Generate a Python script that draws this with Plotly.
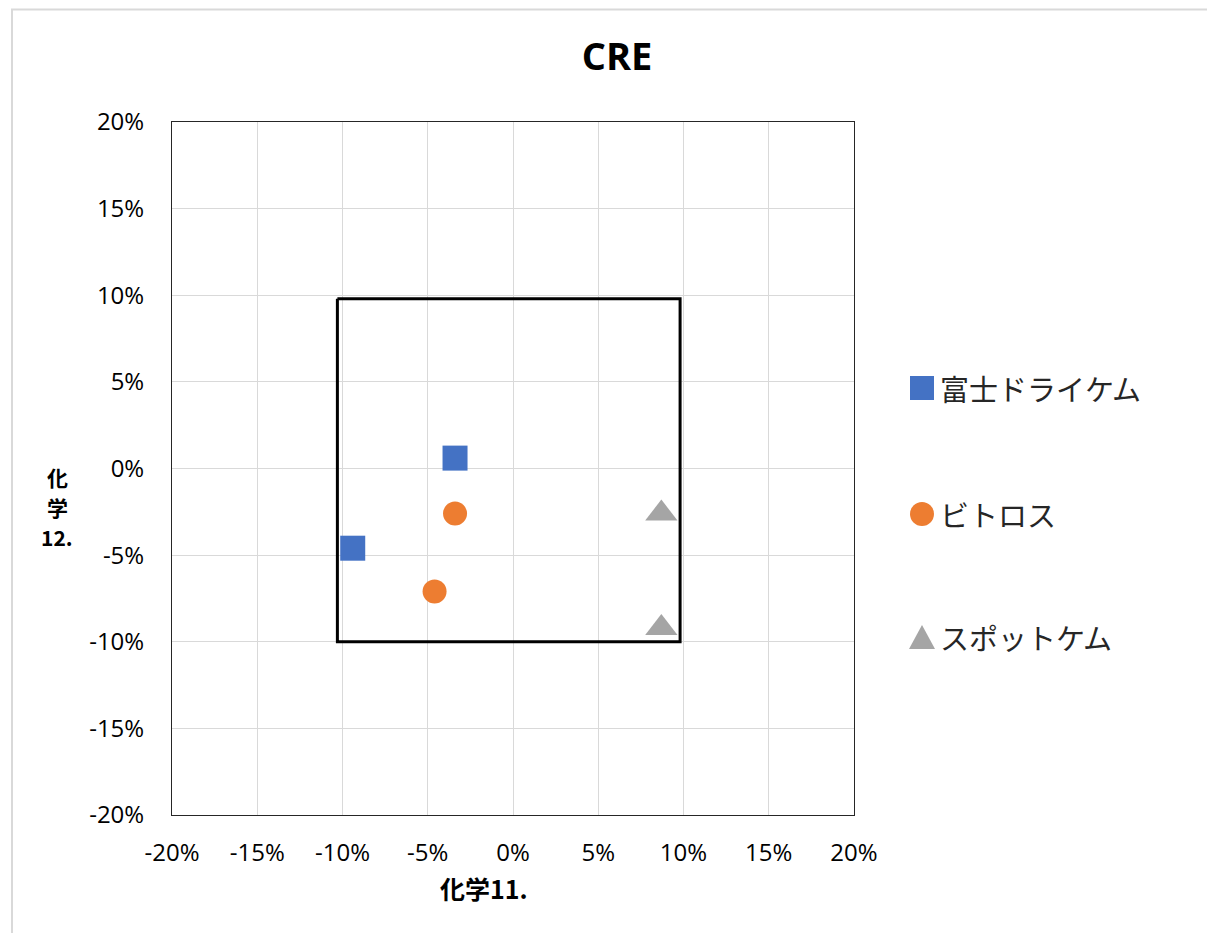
import plotly.graph_objects as go

# Data
series_names = ["富士ドライケム", "ビトロス", "スポットケム"]
fuji_x = [-0.034, -0.094]
fuji_y = [0.006, -0.046]
vitros_x = [-0.034, -0.046]
vitros_y = [-0.026, -0.071]
spot_x = [0.087, 0.087]
spot_y = [-0.026, -0.092]
box_x = [-0.103, 0.098, 0.098, -0.103, -0.103]
box_y = [0.098, 0.098, -0.100, -0.100, 0.098]
tick_vals = [-0.20, -0.15, -0.10, -0.05, 0.0, 0.05, 0.10, 0.15, 0.20]
tick_text = ["-20%", "-15%", "-10%", "-5%", "0%", "5%", "10%", "15%", "20%"]
y_title_parts = ["化", "学", "12."]

colors = ["#4472c4", "#ed7d31", "#a5a5a5"]
symbols = ["square", "circle", "triangle-up"]
sizes = [25, 24, 28]

# plot-area pixel geometry (intended picture coordinates)
PL, PR, PT, PB = 172, 854, 122, 815
PW, PH = PR - PL, PB - PT
OFF = 8  # page body margin


def px(xp):
    return (xp - PL) / PW


def py(yp):
    return (PB - yp) / PH


fig = go.Figure()
fig.add_trace(go.Scatter(x=box_x, y=box_y, mode="lines",
                         line=dict(color="black", width=3), showlegend=False,
                         hoverinfo="skip"))
for name, xs, ys, c, s, sz in zip(series_names, [fuji_x, vitros_x, spot_x],
                                   [fuji_y, vitros_y, spot_y], colors, symbols, sizes):
    fig.add_trace(go.Scatter(x=xs, y=ys, mode="markers", name=name, showlegend=False,
                             marker=dict(color=c, symbol=s, size=sz, line=dict(width=0))))

axis_common = dict(range=[-0.20, 0.20], tickvals=tick_vals, ticktext=tick_text,
                   showgrid=True, gridcolor="#d9d9d9", gridwidth=1,
                   zeroline=False, showline=True, mirror=True,
                   linecolor="#262626", linewidth=1, ticks="",
                   tickfont=dict(family="Open Sans", size=24, color="black"))

fig.update_layout(
    width=1215, height=933,
    margin=dict(l=PL - OFF, r=1215 - PL + OFF - PW, t=PT - OFF, b=933 - PT + OFF - PH),
    paper_bgcolor="white", plot_bgcolor="white",
    title=dict(text="<b>CRE</b>", x=(617 - OFF) / 1215, xanchor="center", y=1 - (57 - OFF) / 933,
               yanchor="middle", font=dict(family="Open Sans", size=38, color="black")),
    xaxis=dict(**axis_common, ticklabelstandoff=16),
    yaxis=dict(**axis_common, ticklabelstandoff=22),
    showlegend=False,
)

fig.add_annotation(text="<b>化学11.</b>", xref="paper", yref="paper",
                   x=px(484), y=py(888), xanchor="center", yanchor="middle",
                   showarrow=False, font=dict(family="Noto Sans CJK JP", size=25, color="black"))
for part, ly in zip(y_title_parts, [477, 507, 537]):
    fig.add_annotation(text="<b>" + part + "</b>", xref="paper", yref="paper",
                       x=px(57), y=py(ly), xanchor="center", yanchor="middle",
                       showarrow=False, borderpad=0,
                       font=dict(family="Noto Sans CJK JP", size=21, color="black"))

# custom legend (markers larger than plotly's built-in legend allows)
legend_y = [388, 514, 637]
mx = 922
for name, c, s, ly in zip(series_names, colors, symbols, legend_y):
    if s == "square":
        fig.add_shape(type="rect", xref="paper", yref="paper",
                      x0=px(mx - 12), x1=px(mx + 12), y0=py(ly + 12), y1=py(ly - 12),
                      fillcolor=c, line=dict(width=0))
    elif s == "circle":
        fig.add_shape(type="circle", xref="paper", yref="paper",
                      x0=px(mx - 12), x1=px(mx + 12), y0=py(ly + 12), y1=py(ly - 12),
                      fillcolor=c, line=dict(width=0))
    else:
        path = "M {:.5f},{:.5f} L {:.5f},{:.5f} L {:.5f},{:.5f} Z".format(
            px(mx - 13), py(ly + 12), px(mx + 13), py(ly + 12), px(mx), py(ly - 12))
        fig.add_shape(type="path", xref="paper", yref="paper", path=path,
                      fillcolor=c, line=dict(width=0))
    fig.add_annotation(text=name, xref="paper", yref="paper", x=px(938), y=py(ly),
                       xanchor="left", yanchor="middle", showarrow=False,
                       font=dict(family="Noto Sans CJK JP", size=29, color="#262626"))

# outer chart border
fig.add_shape(type="rect", xref="paper", yref="paper",
              x0=px(12), x1=px(1225), y0=py(945), y1=py(9.5),
              line=dict(color="#d9d9d9", width=2), layer="below")

fig.write_html("out.html")
